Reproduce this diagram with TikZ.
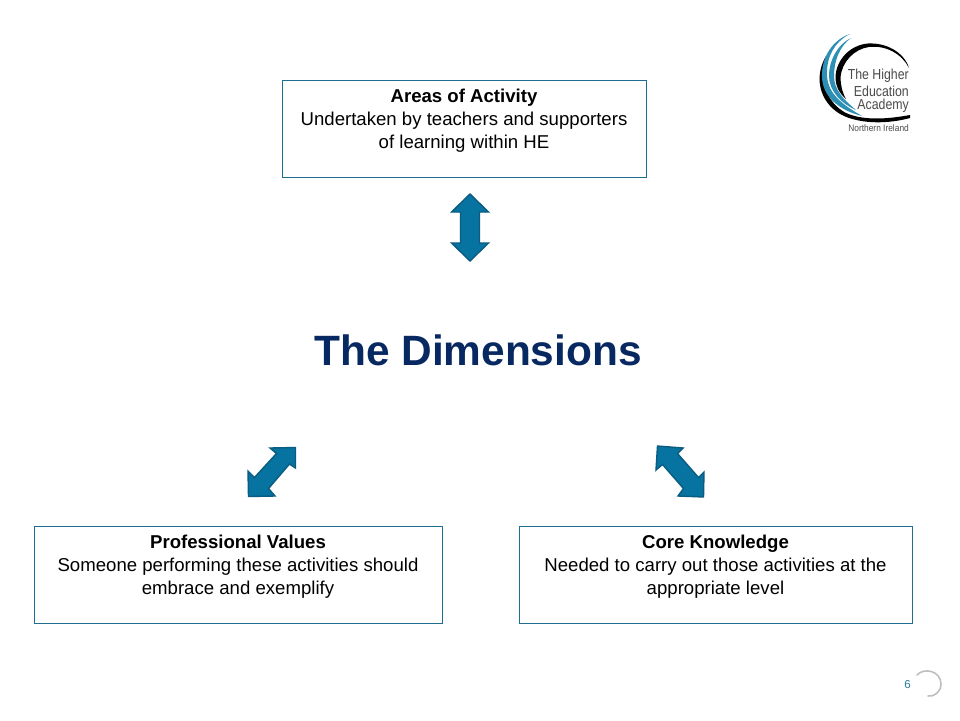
\documentclass[tikz,border=0pt]{standalone}
\usepackage{fontspec}
\setmainfont{Liberation Sans}
\definecolor{boxline}{HTML}{1F6E92}
\definecolor{arrowfill}{HTML}{0673A0}
\definecolor{arrowline}{HTML}{0B5C80}
\definecolor{titleblue}{HTML}{072860}
\definecolor{logoblue}{HTML}{2E8FB5}
\definecolor{logotext}{HTML}{4A4A4A}
\definecolor{pagenum}{HTML}{2A7CA0}
\tikzset{
  x=1pt,y=-1pt,
  infobox/.style={draw=boxline,line width=0.8pt,fill=white,inner sep=0pt,outer sep=0pt},
  boxtext/.style={align=center,font=\fontsize{18.6}{23}\selectfont,text=black,inner sep=0pt,anchor=north},
  blockarrow/.style={fill=arrowfill,draw=arrowline,line width=1.4pt,line join=miter},
  logotxt/.style={font=\fontsize{14.5}{15}\selectfont,text=logotext,inner sep=0pt,anchor=east},
}
\begin{document}
\begin{tikzpicture}
\useasboundingbox (0,0) rectangle (960,720);
\fill[white] (0,0) rectangle (960,720);
% boxes
\node[infobox,minimum width=364.2pt,minimum height=97.2pt] (areas) at (464.5,129) {};
\node[infobox,minimum width=408.2pt,minimum height=97.2pt] (values) at (238.5,575) {};
\node[infobox,minimum width=393.2pt,minimum height=97.2pt] (knowledge) at (716,575) {};
\node[boxtext] (areastext) at (464,89) {\textbf{Areas of Activity}\\Undertaken by teachers and supporters\\of learning within HE};
\node[boxtext] (valuestext) at (238,535) {\textbf{Professional Values}\\Someone performing these activities should\\embrace and exemplify};
\node[boxtext] (knowledgetext) at (715.5,535) {\textbf{Core Knowledge}\\Needed to carry out those activities at the\\appropriate level};
% block arrows
\draw[blockarrow] (470,194) -- (488.5,212) -- (479.5,212) -- (479.5,243) -- (488.5,243) -- (470,261) -- (451.5,243) -- (460.5,243) -- (460.5,212) -- (451.5,212) -- cycle;
\draw[blockarrow] (295.5,447.5) -- (295.5,468) -- (289.5,464) -- (268.5,488.5) -- (275,496) -- (248.5,496.5) -- (248,471) -- (254.5,477.5) -- (276.5,453.5) -- (270,448) -- cycle;
\draw[blockarrow] (657.5,446) -- (683,448) -- (677.5,453.5) -- (698.5,477.5) -- (704,472) -- (703.5,497) -- (678,496) -- (683.5,488.5) -- (662.5,464.5) -- (656,470) -- cycle;
% title
\node[font=\fontsize{42.4}{50}\selectfont\bfseries,text=titleblue,inner sep=0pt] (title) at (478,350) {The Dimensions};
% logo swooshes
\fill[black] (826,56) .. controls (818,80) and (827,103) .. (846,113) .. controls (864,121) and (888,119) .. (910,115) -- (910,118) .. controls (888,124) and (862,124) .. (844,116) .. controls (822,106) and (812,80) .. (826,56) -- cycle;
\fill[logoblue] (850,34) .. controls (832,40) and (821,58) .. (822,78) .. controls (823,96) and (838,110) .. (862,116) .. controls (843,105) and (828,94) .. (827,76) .. controls (826,58) and (834,42) .. (850,34) -- cycle;
\fill[logoblue] (851,38) .. controls (838,44) and (829,60) .. (829,76) .. controls (829,90) and (840,103) .. (856,110) .. controls (844,100) and (834,90) .. (834,76) .. controls (834,60) and (840,46) .. (851,38) -- cycle;
\fill[black] (909,68) .. controls (904,52) and (886,42.5) .. (868,43.5) .. controls (850,45) and (836,60) .. (835.5,77) .. controls (835.5,86) and (839,93) .. (846,99) .. controls (842,92) and (840.5,84) .. (840.5,77) .. controls (842,62) and (854,49) .. (869,47) .. controls (886,45) and (902,54) .. (909,68) -- cycle;
% logo text
\node[logotxt] (logoa) at (909,76) {\scalebox{0.85}[1]{The Higher}};
\node[logotxt] (logob) at (909,91) {\scalebox{0.85}[1]{Education}};
\node[logotxt] (logoc) at (909,105.5) {\scalebox{0.85}[1]{Academy}};
\node[font=\fontsize{9.5}{11}\selectfont,text=logotext,inner sep=0pt,anchor=east] (logod) at (909,128) {\scalebox{0.88}[1]{Northern Ireland}};
% page number
\node[font=\fontsize{11.5}{12}\selectfont,text=pagenum,inner sep=0pt] (page) at (907.5,684.5) {6};
\draw[line width=1.6pt,draw=black!25,line cap=round] (917,675) .. controls (924,667) and (941,671) .. (941,684) .. controls (941,692) and (934,697) .. (928,696);
\end{tikzpicture}
\end{document}
